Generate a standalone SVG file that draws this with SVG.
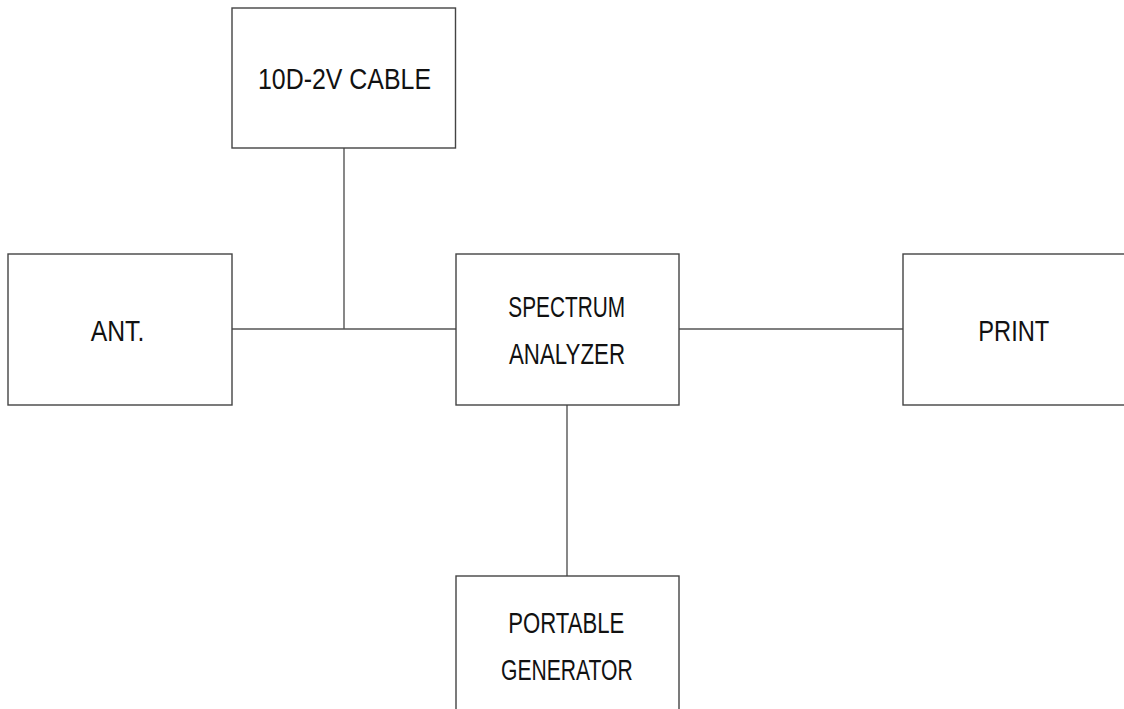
<svg xmlns="http://www.w3.org/2000/svg" width="1124" height="709" viewBox="0 0 1124 709">
<style>
rect.box{fill:#fff;stroke:#444;stroke-width:1.4}
.conn line{stroke:#555;stroke-width:1.4}
text{font-family:"Liberation Sans",Arial,sans-serif;font-size:29px;fill:#111}
</style>
<rect width="1124" height="709" fill="#fff"/>
<g class="conn" id="connectors">
<line x1="232" y1="329" x2="456" y2="329"/>
<line x1="344" y1="148" x2="344" y2="329"/>
<line x1="679" y1="329" x2="903" y2="329"/>
<line x1="567" y1="405" x2="567" y2="576"/>
</g>
<g id="cable"><rect class="box" x="232" y="8" width="223.5" height="140"/>
<text x="258" y="89.3" textLength="173" lengthAdjust="spacingAndGlyphs">10D-2V CABLE</text></g>
<g id="ant"><rect class="box" x="8" y="254" width="224" height="151"/>
<text x="90.7" y="340.7" textLength="53.6" lengthAdjust="spacingAndGlyphs">ANT.</text></g>
<g id="spectrum"><rect class="box" x="456" y="254" width="223" height="151"/>
<text x="508.3" y="316.7" textLength="116.7" lengthAdjust="spacingAndGlyphs">SPECTRUM</text>
<text x="509" y="364" textLength="116" lengthAdjust="spacingAndGlyphs">ANALYZER</text></g>
<g id="print"><rect class="box" x="903" y="254" width="240" height="151"/>
<text x="978.3" y="341" textLength="71" lengthAdjust="spacingAndGlyphs">PRINT</text></g>
<g id="generator"><rect class="box" x="456" y="576" width="223" height="160"/>
<text x="508.3" y="632.7" textLength="116" lengthAdjust="spacingAndGlyphs">PORTABLE</text>
<text x="501" y="680" textLength="131.7" lengthAdjust="spacingAndGlyphs">GENERATOR</text></g>
</svg>
